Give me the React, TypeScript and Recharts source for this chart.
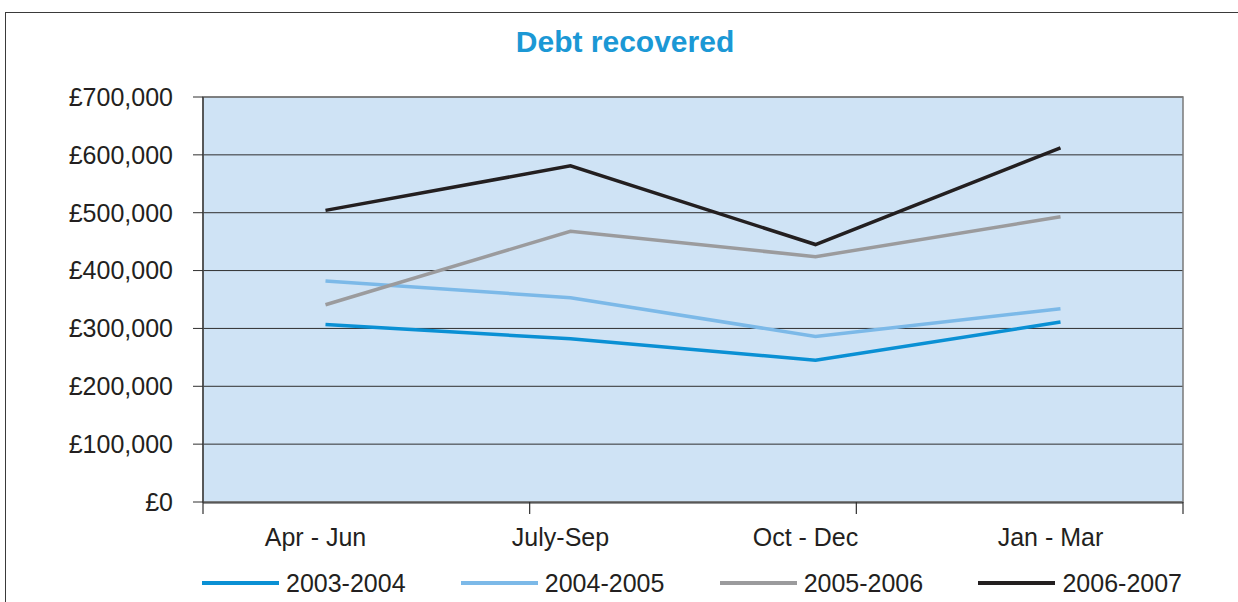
import React from "react";
import {
  LineChart,
  Line,
  XAxis,
  YAxis,
  CartesianGrid,
  ReferenceArea,
} from "recharts";

const categories = ["Apr - Jun", "July-Sep", "Oct - Dec", "Jan - Mar"];
const s2003 = [307000, 282000, 245000, 311000];
const s2004 = [382000, 353000, 286000, 334000];
const s2005 = [341000, 468000, 424000, 493000];
const s2006 = [504000, 581000, 445000, 612000];
const seriesNames = ["2003-2004", "2004-2005", "2005-2006", "2006-2007"];
const yTicks = [0, 100000, 200000, 300000, 400000, 500000, 600000, 700000];
const edgeTicks = [0, 1, 2, 3, 4];

const colors = ["#0a90d4", "#7cb9e8", "#9b9b9d", "#231f20"];
const keys = ["s2003", "s2004", "s2005", "s2006"];

const data = categories.map((c, i) => ({
  cat: c,
  s2003: s2003[i],
  s2004: s2004[i],
  s2005: s2005[i],
  s2006: s2006[i],
}));

const FONT = "'Liberation Sans', Arial, Helvetica, sans-serif";
const fmt = (v: number) => `£${v.toLocaleString("en-GB")}`;
const EmptyTick = () => <g />;

export default function App() {
  return (
    <div
      style={{
        position: "fixed",
        left: 0,
        top: 0,
        width: 1238,
        height: 602,
        overflow: "hidden",
        background: "#ffffff",
        fontFamily: FONT,
      }}
    >
      <div
        style={{
          position: "absolute",
          left: 5,
          top: 12,
          width: 1400,
          height: 800,
          border: "1px solid #3a3a3a",
          boxSizing: "border-box",
        }}
      />
      <div
        style={{
          position: "absolute",
          left: 0,
          width: 1250,
          top: 24,
          textAlign: "center",
          fontSize: 30,
          fontWeight: "bold",
          color: "#1b98d5",
          lineHeight: "36px",
        }}
      >
        Debt recovered
      </div>
      <div style={{ position: "absolute", left: 0, top: 0 }}>
        <LineChart
          width={1238}
          height={602}
          data={data}
          margin={{ top: 97, right: 55, left: 83, bottom: 60 }}
        >
          <CartesianGrid
            xAxisId="b"
            vertical={false}
            stroke="#2f2f2f"
            strokeWidth={1}
            fill="#cfe3f5"
            fillOpacity={1}
          />
          <XAxis
            xAxisId="a"
            type="number"
            domain={[0, 4]}
            ticks={edgeTicks}
            interval={0}
            tick={EmptyTick}
            tickSize={12}
            tickLine={{ stroke: "#2f2f2f", strokeWidth: 1.2 }}
            axisLine={false}
            height={1}
            allowDataOverflow
          />
          <XAxis
            xAxisId="b"
            dataKey="cat"
            scale="band"
            tickLine={false}
            axisLine={{ stroke: "#2f2f2f", strokeWidth: 1.2 }}
            tickMargin={19}
            height={39}
            tick={{ fill: "#231f20", fontSize: 25, fontFamily: FONT, dx: -10 }}
            interval={0}
          />
          <YAxis
            domain={[0, 700000]}
            ticks={yTicks}
            tickFormatter={fmt}
            width={120}
            tickSize={10}
            tickMargin={20}
            interval={0}
            tickLine={{ stroke: "#2f2f2f" }}
            axisLine={{ stroke: "#2f2f2f", strokeWidth: 1.2 }}
            tick={{ fill: "#231f20", fontSize: 25, fontFamily: FONT }}
          />
          <ReferenceArea
            xAxisId="b"
            y1={0}
            y2={700000}
            fill="none"
            fillOpacity={0}
            stroke="#7a7a7a"
            strokeWidth={1.5}
          />
          {keys.map((k, i) => (
            <Line
              key={k}
              xAxisId="b"
              dataKey={k}
              name={seriesNames[i]}
              stroke={colors[i]}
              strokeWidth={3.5}
              dot={false}
              activeDot={false}
              type="linear"
              isAnimationActive={false}
              strokeLinecap="butt"
              strokeLinejoin="miter"
            />
          ))}
        </LineChart>
      </div>
      <div
        style={{
          position: "absolute",
          left: 202,
          top: 567,
          width: 980,
          display: "flex",
          justifyContent: "space-between",
          alignItems: "center",
          height: 32,
        }}
      >
        {seriesNames.map((n, i) => (
          <div key={n} style={{ display: "flex", alignItems: "center" }}>
            <div
              style={{
                width: 77,
                height: 4,
                background: colors[i],
                marginRight: 7,
              }}
            />
            <span style={{ fontSize: 25, color: "#231f20", lineHeight: "32px" }}>
              {n}
            </span>
          </div>
        ))}
      </div>
    </div>
  );
}
